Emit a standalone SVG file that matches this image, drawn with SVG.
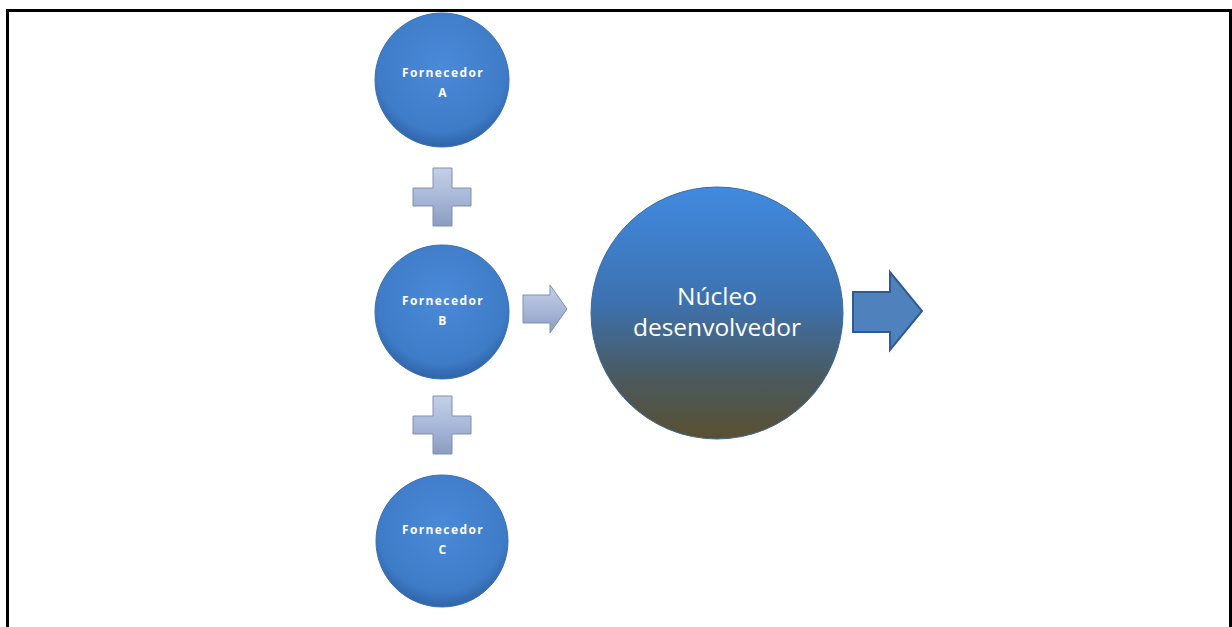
<svg xmlns="http://www.w3.org/2000/svg" width="1232" height="627" viewBox="0 0 1232 627">
<defs>
<radialGradient id="gSmall" cx="50%" cy="40%" r="60%">
<stop offset="0" stop-color="#4a8ad8"/>
<stop offset="0.8" stop-color="#3f7cc8"/>
<stop offset="1" stop-color="#2f64a8"/>
</radialGradient>
<linearGradient id="gBig" x1="0" y1="0" x2="0" y2="1">
<stop offset="0" stop-color="#418ae0"/>
<stop offset="0.45" stop-color="#3d72b0"/>
<stop offset="0.75" stop-color="#4a5a60"/>
<stop offset="1" stop-color="#5a5030"/>
</linearGradient>
<linearGradient id="gPlus" x1="0" y1="0" x2="0" y2="1">
<stop offset="0" stop-color="#c4d0e8"/>
<stop offset="0.5" stop-color="#a8b8d8"/>
<stop offset="1" stop-color="#8a9cc0"/>
</linearGradient>
<style>
.sm{fill:url(#gSmall);stroke:#3a6fb0;stroke-width:1}
.lbl{font-family:"Open Sans","Liberation Sans",sans-serif;font-weight:bold;font-size:12px;letter-spacing:1.4px;fill:#ffffff;text-anchor:middle}
.big{font-family:"Open Sans","Liberation Sans",sans-serif;font-size:24.5px;fill:#ffffff;text-anchor:middle}
.plus{fill:url(#gPlus);stroke:#7f8fb0;stroke-width:1}
</style>
</defs>
<rect x="0" y="0" width="1232" height="627" fill="#ffffff"/>
<path d="M7.5 627 V10.5 H1230.5 V627" fill="none" stroke="#000000" stroke-width="3"/>
<g id="connectors">
<path class="plus" d="M433 168 H452 V188 H471 V206 H452 V226 H433 V206 H413 V188 H433 Z"/>
<path class="plus" d="M433 396 H452 V416 H471 V434 H452 V454 H433 V434 H413 V416 H433 Z"/>
<path class="plus" d="M523 295 H550 V285 L567 309 L550 333 V323 H523 Z"/>
<path d="M853 292 H890 V272 L922 311 L890 350 V332 H853 Z" fill="#4f81bd" stroke="#2f5b93" stroke-width="2"/>
</g>
<g id="nodeA">
<circle class="sm" cx="442" cy="80" r="67"/>
<text class="lbl" x="443" y="77">Fornecedor</text>
<text class="lbl" x="443" y="97">A</text>
</g>
<g id="nodeB">
<circle class="sm" cx="442" cy="312" r="67"/>
<text class="lbl" x="443" y="305">Fornecedor</text>
<text class="lbl" x="443" y="325">B</text>
</g>
<g id="nodeC">
<circle class="sm" cx="442" cy="541" r="66"/>
<text class="lbl" x="443" y="534">Fornecedor</text>
<text class="lbl" x="443" y="554">C</text>
</g>
<g id="nucleo">
<circle cx="717" cy="313" r="126" fill="url(#gBig)" stroke="#3a6aa0" stroke-width="1"/>
<text class="big" x="717" y="305">Núcleo</text>
<text class="big" x="717" y="336">desenvolvedor</text>
</g>
</svg>
